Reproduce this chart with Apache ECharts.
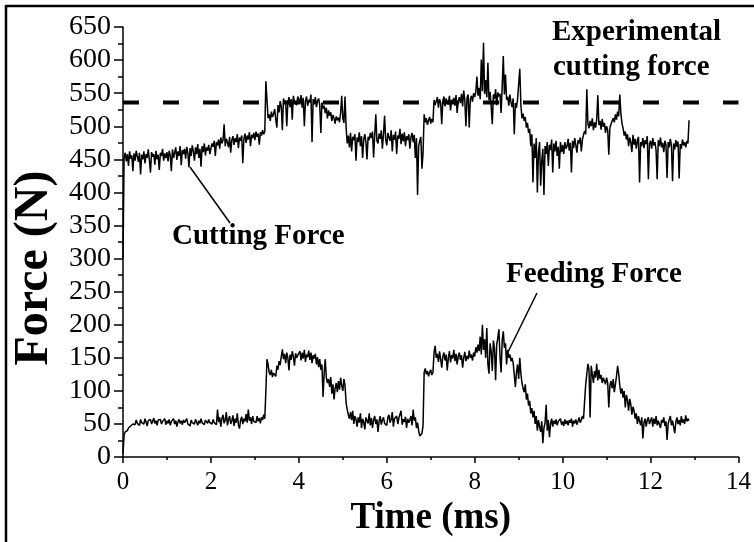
<!DOCTYPE html>
<html>
<head>
<meta charset="utf-8">
<script src="https://cdn.jsdelivr.net/npm/echarts@6/dist/echarts.min.js"></script>
<style>
html,body{margin:0;padding:0;background:#fff;}
#chart{width:754px;height:542px;}
</style>
</head>
<body>
<div id="chart"></div>
<script>
// sampling interval of the recorded signals (ms)
const sampleStepMs = 0.025;

// Cutting force (N), one value per 0.025 ms from t = 0 (one row = 1 ms)
const cuttingForce = [
  300,452,460,447,458,440,462,451,456,432,459,448,463,455,446,460,427,457,450,462,444,458,452,465,449,430,461,454,458,442,463,450,457,434,460,455,466,448,459,452,
  461,447,463,456,432,465,452,460,468,449,462,455,470,441,464,458,466,451,469,460,438,467,455,471,462,448,468,458,473,452,466,439,470,461,474,456,468,463,472,458,
  466,474,469,478,455,476,471,480,466,483,474,479,503,470,481,476,468,484,460,479,485,472,482,476,488,467,483,478,486,444,481,489,475,486,480,491,470,487,482,490,
  479,492,484,489,472,491,486,494,488,492,568,540,512,518,508,522,514,519,526,510,498,532,521,538,530,494,542,534,539,500,536,544,529,541,510,546,537,540,532,545,
  541,533,547,528,543,500,538,545,531,540,536,548,476,541,533,544,529,538,542,532,490,536,527,531,520,528,512,524,516,521,508,517,512,504,515,509,513,506,520,546,
  512,505,545,498,474,486,468,490,462,484,479,488,448,483,476,491,470,485,452,480,488,476,450,484,479,490,482,492,453,486,518,478,474,489,481,494,466,488,516,480,
  471,490,483,478,494,462,487,480,492,458,486,481,496,473,489,477,491,470,485,479,488,466,484,490,476,487,452,482,396,470,478,484,436,460,518,506,512,502,509,514,
  504,511,506,540,532,538,544,528,541,536,503,539,545,530,542,537,533,546,524,540,536,543,531,547,520,538,544,535,549,530,554,539,500,543,548,498,541,546,537,550,
  544,552,575,546,558,541,601,553,626,549,570,544,596,539,552,530,503,548,541,556,532,551,545,549,520,560,606,548,578,540,545,531,548,536,529,542,488,535,528,541,
  540,587,532,512,519,508,514,498,505,490,496,470,488,415,474,452,482,400,460,476,410,448,466,396,470,458,476,440,472,464,480,430,474,462,478,455,469,436,476,461,
  472,458,476,466,470,481,463,475,430,478,467,482,471,460,479,474,483,462,480,487,493,488,556,504,497,508,500,512,494,506,498,510,547,502,508,495,511,499,505,490,
  500,494,457,498,503,508,512,506,518,510,522,515,548,519,504,497,486,492,480,488,470,483,476,461,487,472,481,466,478,484,415,476,470,482,467,479,473,485,420,474,
  478,466,482,471,476,464,420,479,470,483,468,475,461,478,472,422,476,468,481,470,417,474,465,479,469,477,421,473,466,480,471,476,468,478,474,509
];

// Feeding force (N), same sampling
const feedingForce = [
  5,34,38,41,40,44,43,47,45,50,53,49,56,51,54,48,57,52,55,50,58,53,47,55,52,57,50,54,59,51,55,48,56,53,57,50,54,52,58,49,
  55,51,57,48,54,52,58,50,55,46,53,57,51,55,49,56,52,54,58,50,53,47,56,52,55,50,57,53,48,55,51,58,52,54,49,56,53,51,57,52,
  54,50,57,52,55,49,72,53,60,46,58,64,51,56,68,48,57,62,50,55,63,47,58,52,66,49,43,56,61,50,58,54,65,52,72,55,60,50,62,54,
  57,52,62,54,59,51,60,56,64,58,100,148,140,128,124,132,121,127,130,122,138,132,145,139,152,163,148,156,142,158,150,131,155,147,160,152,138,157,150,154,
  152,160,146,158,149,162,144,155,151,161,147,158,142,154,149,156,140,151,136,148,132,140,91,126,148,120,112,118,106,121,96,110,87,104,112,98,115,102,120,108,
  100,118,108,82,72,64,58,68,56,70,50,62,57,46,60,52,66,44,58,53,42,60,55,51,66,48,59,44,56,62,50,57,38,54,62,49,56,60,51,54,
  48,60,64,52,57,68,46,58,55,62,50,59,56,70,49,57,53,61,44,58,52,56,62,48,72,55,60,44,52,40,32,30,36,48,128,134,125,130,122,128,
  132,124,128,158,168,150,156,144,160,148,135,152,158,146,155,131,150,160,143,154,149,162,145,156,140,152,158,147,154,135,150,159,145,153,148,161,150,155,146,158,
  152,166,158,170,160,182,155,200,162,178,150,195,140,126,172,160,130,176,164,116,170,180,193,152,128,176,190,165,172,140,162,150,155,145,150,142,140,106,128,140,
  118,150,126,112,104,98,110,87,96,78,85,66,74,60,70,50,62,40,56,46,38,54,21,44,52,79,40,56,30,50,58,46,55,50,57,48,54,51,58,49,
  54,47,57,50,55,48,56,52,58,46,55,51,57,49,54,60,52,56,62,58,85,110,126,141,132,60,138,125,112,130,120,141,116,132,118,124,112,120,115,110,
  120,112,75,108,115,104,118,98,110,122,138,126,108,96,104,90,100,75,94,86,70,88,80,64,76,70,58,66,50,62,54,48,60,28,52,58,46,56,60,50,
  52,60,46,58,50,62,48,55,58,44,56,52,60,47,54,26,50,57,62,48,55,58,36,53,60,50,56,48,62,52,57,50,63,54,58,55
];

// Experimental cutting force level (N), drawn as the dashed reference line
const experimentalForce = 536;
const expSpanMs = [0, 14];

const serifFont = '"Liberation Serif", "Times New Roman", serif';
const toPairs = arr => arr.map((v, i) => [+(i * sampleStepMs).toFixed(3), v]);

const chart = echarts.init(document.getElementById('chart'), null, {renderer: 'canvas'});
chart.setOption({
  animation: false,
  backgroundColor: '#fff',
  grid: {left: 123, right: 15, top: 27, bottom: 73, containLabel: false},
  xAxis: {
    type: 'value', min: 0, max: 14, interval: 2,
    name: 'Time (ms)', nameLocation: 'middle', nameGap: 31,
    nameTextStyle: {fontFamily: serifFont, fontWeight: 'bold', fontSize: 37, color: '#000'},
    axisLine: {show: true, onZero: false, lineStyle: {color: '#000', width: 1.5}},
    axisTick: {show: true, inside: false, length: 6, lineStyle: {color: '#000', width: 1.5}},
    minorTick: {show: true, splitNumber: 2, length: 3, lineStyle: {color: '#000', width: 1.5}},
    axisLabel: {fontFamily: serifFont, fontSize: 25, color: '#000', margin: 13},
    splitLine: {show: false}, minorSplitLine: {show: false}
  },
  yAxis: {
    type: 'value', min: 0, max: 650, interval: 50,
    name: 'Force (N)', nameLocation: 'middle', nameGap: 51,
    nameTextStyle: {fontFamily: serifFont, fontWeight: 'bold', fontSize: 48, color: '#000', padding: [0, 52, 0, 0]},
    axisLine: {show: true, onZero: false, lineStyle: {color: '#000', width: 1.5}},
    axisTick: {show: true, inside: false, length: 9, lineStyle: {color: '#000', width: 1.5}},
    minorTick: {show: true, splitNumber: 2, length: 5, lineStyle: {color: '#000', width: 1.5}},
    axisLabel: {fontFamily: serifFont, fontSize: 28, color: '#000', margin: 12},
    splitLine: {show: false}, minorSplitLine: {show: false}
  },
  series: [
    {
      name: 'Cutting Force', type: 'line', data: toPairs(cuttingForce),
      showSymbol: false, symbol: 'none',
      lineStyle: {color: '#000', width: 1.5}, z: 3
    },
    {
      name: 'Feeding Force', type: 'line', data: toPairs(feedingForce),
      showSymbol: false, symbol: 'none',
      lineStyle: {color: '#000', width: 1.5}, z: 3
    },
    {
      name: 'Experimental cutting force', type: 'line',
      data: expSpanMs.map(t => [t, experimentalForce]),
      showSymbol: false, symbol: 'none',
      lineStyle: {color: '#000', width: 4, type: [16, 24], cap: 'butt'}, z: 4
    }
  ],
  graphic: [
    {type: 'polyline', shape: {points: [[6, 560], [6, 6], [770, 6]]}, style: {stroke: '#000', lineWidth: 2.5, fill: null}, z: 10},
    {type: 'text', left: 552, top: 18, style: {text: 'Experimental', font: 'bold 29px "Liberation Serif"', fill: '#000'}},
    {type: 'text', left: 553, top: 53, style: {text: 'cutting force', font: 'bold 29px "Liberation Serif"', fill: '#000'}},
    {type: 'text', left: 172, top: 222, style: {text: 'Cutting Force', font: 'bold 29px "Liberation Serif"', fill: '#000'}},
    {type: 'text', left: 506, top: 260, style: {text: 'Feeding Force', font: 'bold 29px "Liberation Serif"', fill: '#000'}},
    {type: 'line', shape: {x1: 190, y1: 167, x2: 230, y2: 223}, style: {stroke: '#000', lineWidth: 1.5}},
    {type: 'line', shape: {x1: 537, y1: 293, x2: 508, y2: 352}, style: {stroke: '#000', lineWidth: 1.5}}
  ]
});
</script>
</body>
</html>
